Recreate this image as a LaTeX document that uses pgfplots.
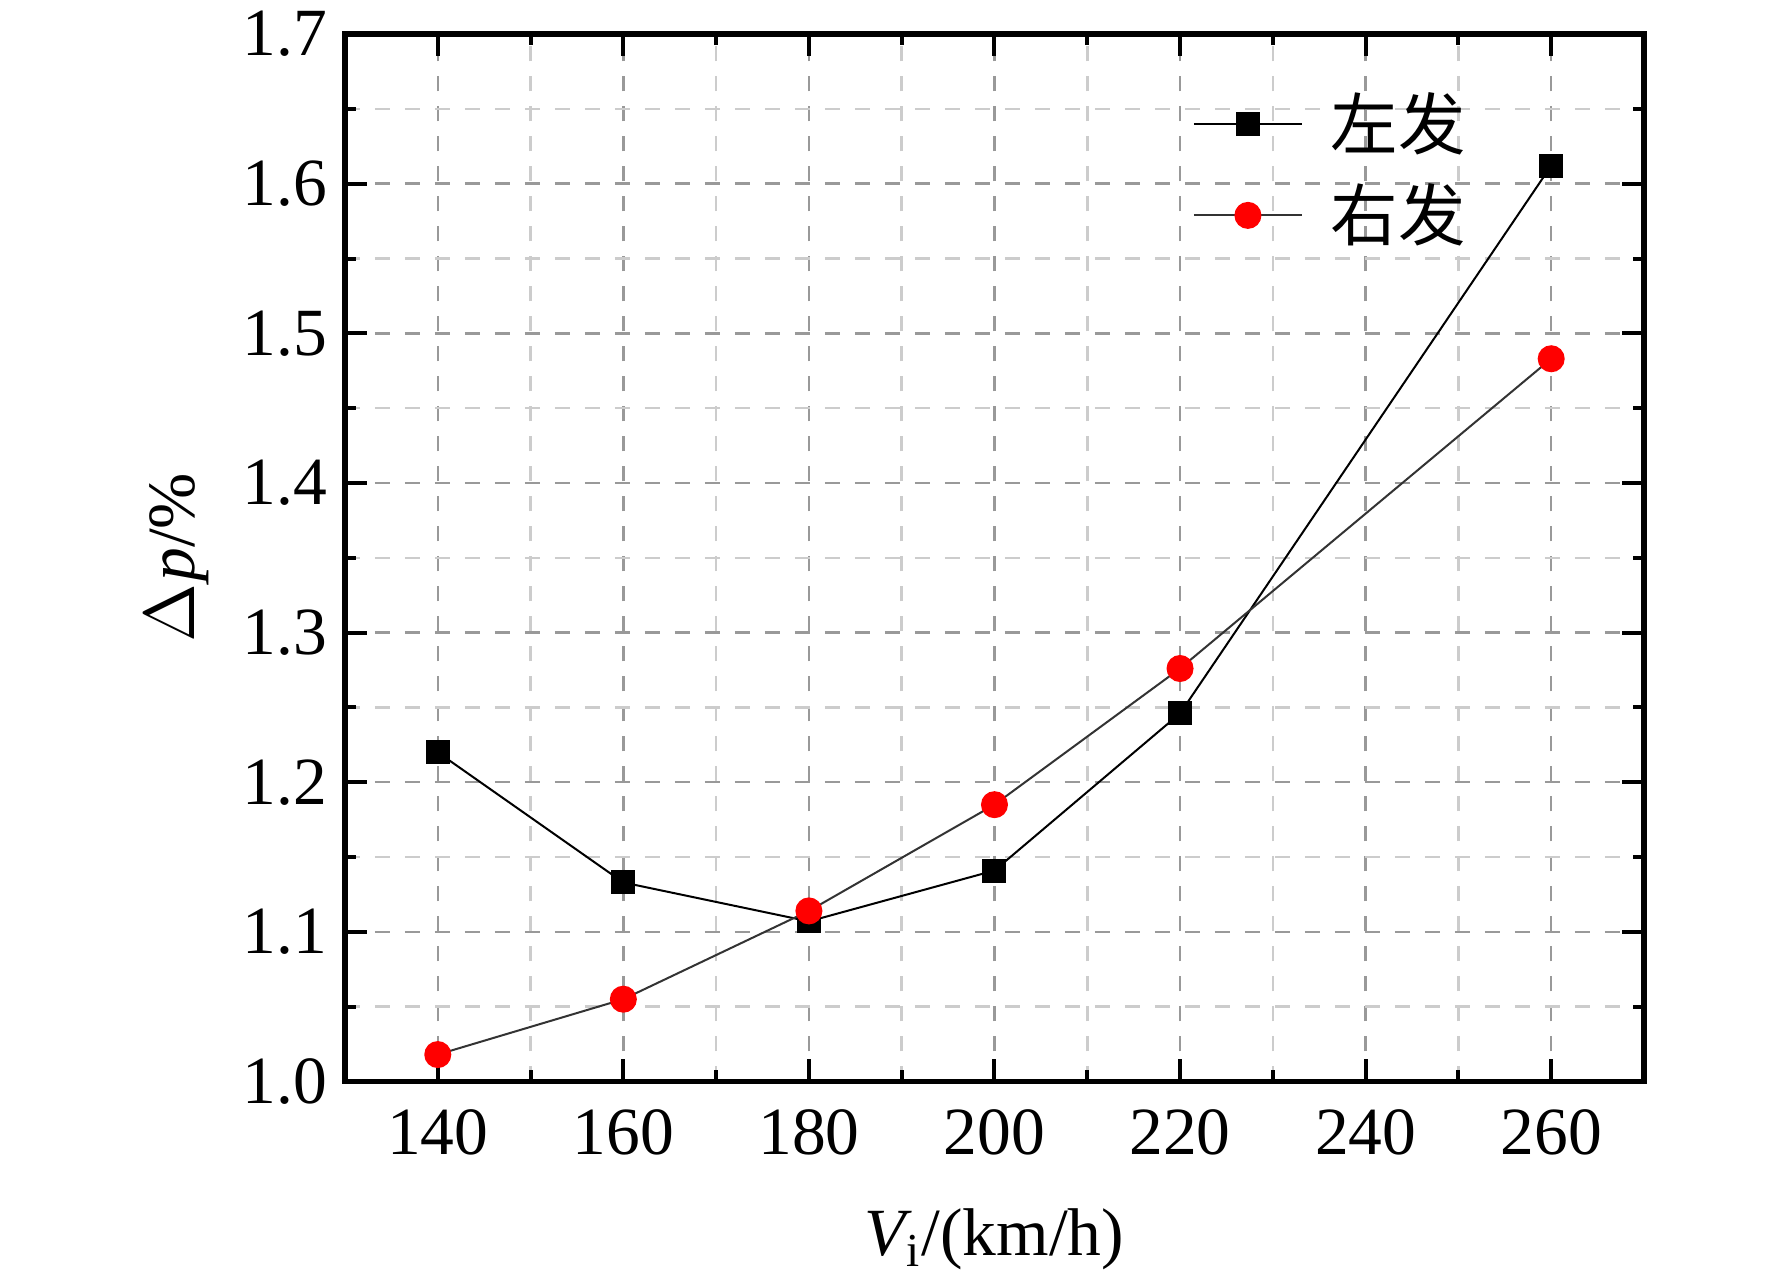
\documentclass[border=0pt]{standalone}
\usepackage{fontspec}
\setmainfont{Liberation Serif}
\newfontfamily\cjk{Noto Sans CJK SC}
\usepackage{pgfplots}
\pgfplotsset{compat=1.18}
\pgfplotstableread{
x y
140 1.220
160 1.133
180 1.107
200 1.141
220 1.246
260 1.612
}\left
\pgfplotstableread{
x y
140 1.018
160 1.055
180 1.114
200 1.185
220 1.276
260 1.483
}\right
\begin{document}
\begin{tikzpicture}
\begin{axis}[
  at={(0,0)}, anchor=south west,
  scale only axis, width=259.8pt, height=209.5pt,
  font=\fontsize{13.5}{16}\selectfont,
  /pgf/number format/assume math mode=true,
  xmin=130, xmax=270, ymin=1.0, ymax=1.7,
  xtick={140,160,...,260}, ytick={1.0,1.1,...,1.7},
  minor x tick num=1, minor y tick num=1,
  yticklabel style={/pgf/number format/.cd, fixed, fixed zerofill, precision=1},
  xticklabel style={yshift=-2pt},
  tick align=inside,
  major tick length=4.4pt, minor tick length=2.2pt,
  every tick/.style={black, line width=0.8pt},
  axis line style={line width=1.1pt},
  grid=both,
  major grid style={gray!80, dashed, line width=0.5pt},
  minor grid style={gray!40, dashed, line width=0.5pt},
  xlabel={{\itshape V}\textsubscript{i}/(km/h)},
  ylabel={$\Delta$\kern0.5pt{\itshape p}/\%},
  xlabel style={yshift=-4pt},
  legend cell align=left,
  legend style={draw=none, fill=none, at={(0.652,0.955)}, anchor=north west, inner sep=0pt, row sep=1.3pt,
     nodes={inner sep=2pt}},
  legend image code/.code={\draw[mark repeat=2,mark phase=2,#1] plot coordinates {(0pt,0pt)(10.8pt,0pt)(21.6pt,0pt)};},
]
\addplot[black, line width=0.4pt, mark=square*, mark size=2.2pt, mark options={solid, fill=black}] table {\left};
\addlegendentry{\hspace{3.6pt}\cjk 左发}
\addplot[black!80, line width=0.4pt, mark=*, mark size=2.5pt, mark options={solid, fill=red, draw=red}] table {\right};
\addlegendentry{\hspace{3.6pt}\cjk 右发}
\end{axis}
\pgfresetboundingbox
\path[use as bounding box] (-69pt,-40.9pt) rectangle (285.4pt,216.3pt);
\end{tikzpicture}
\end{document}
